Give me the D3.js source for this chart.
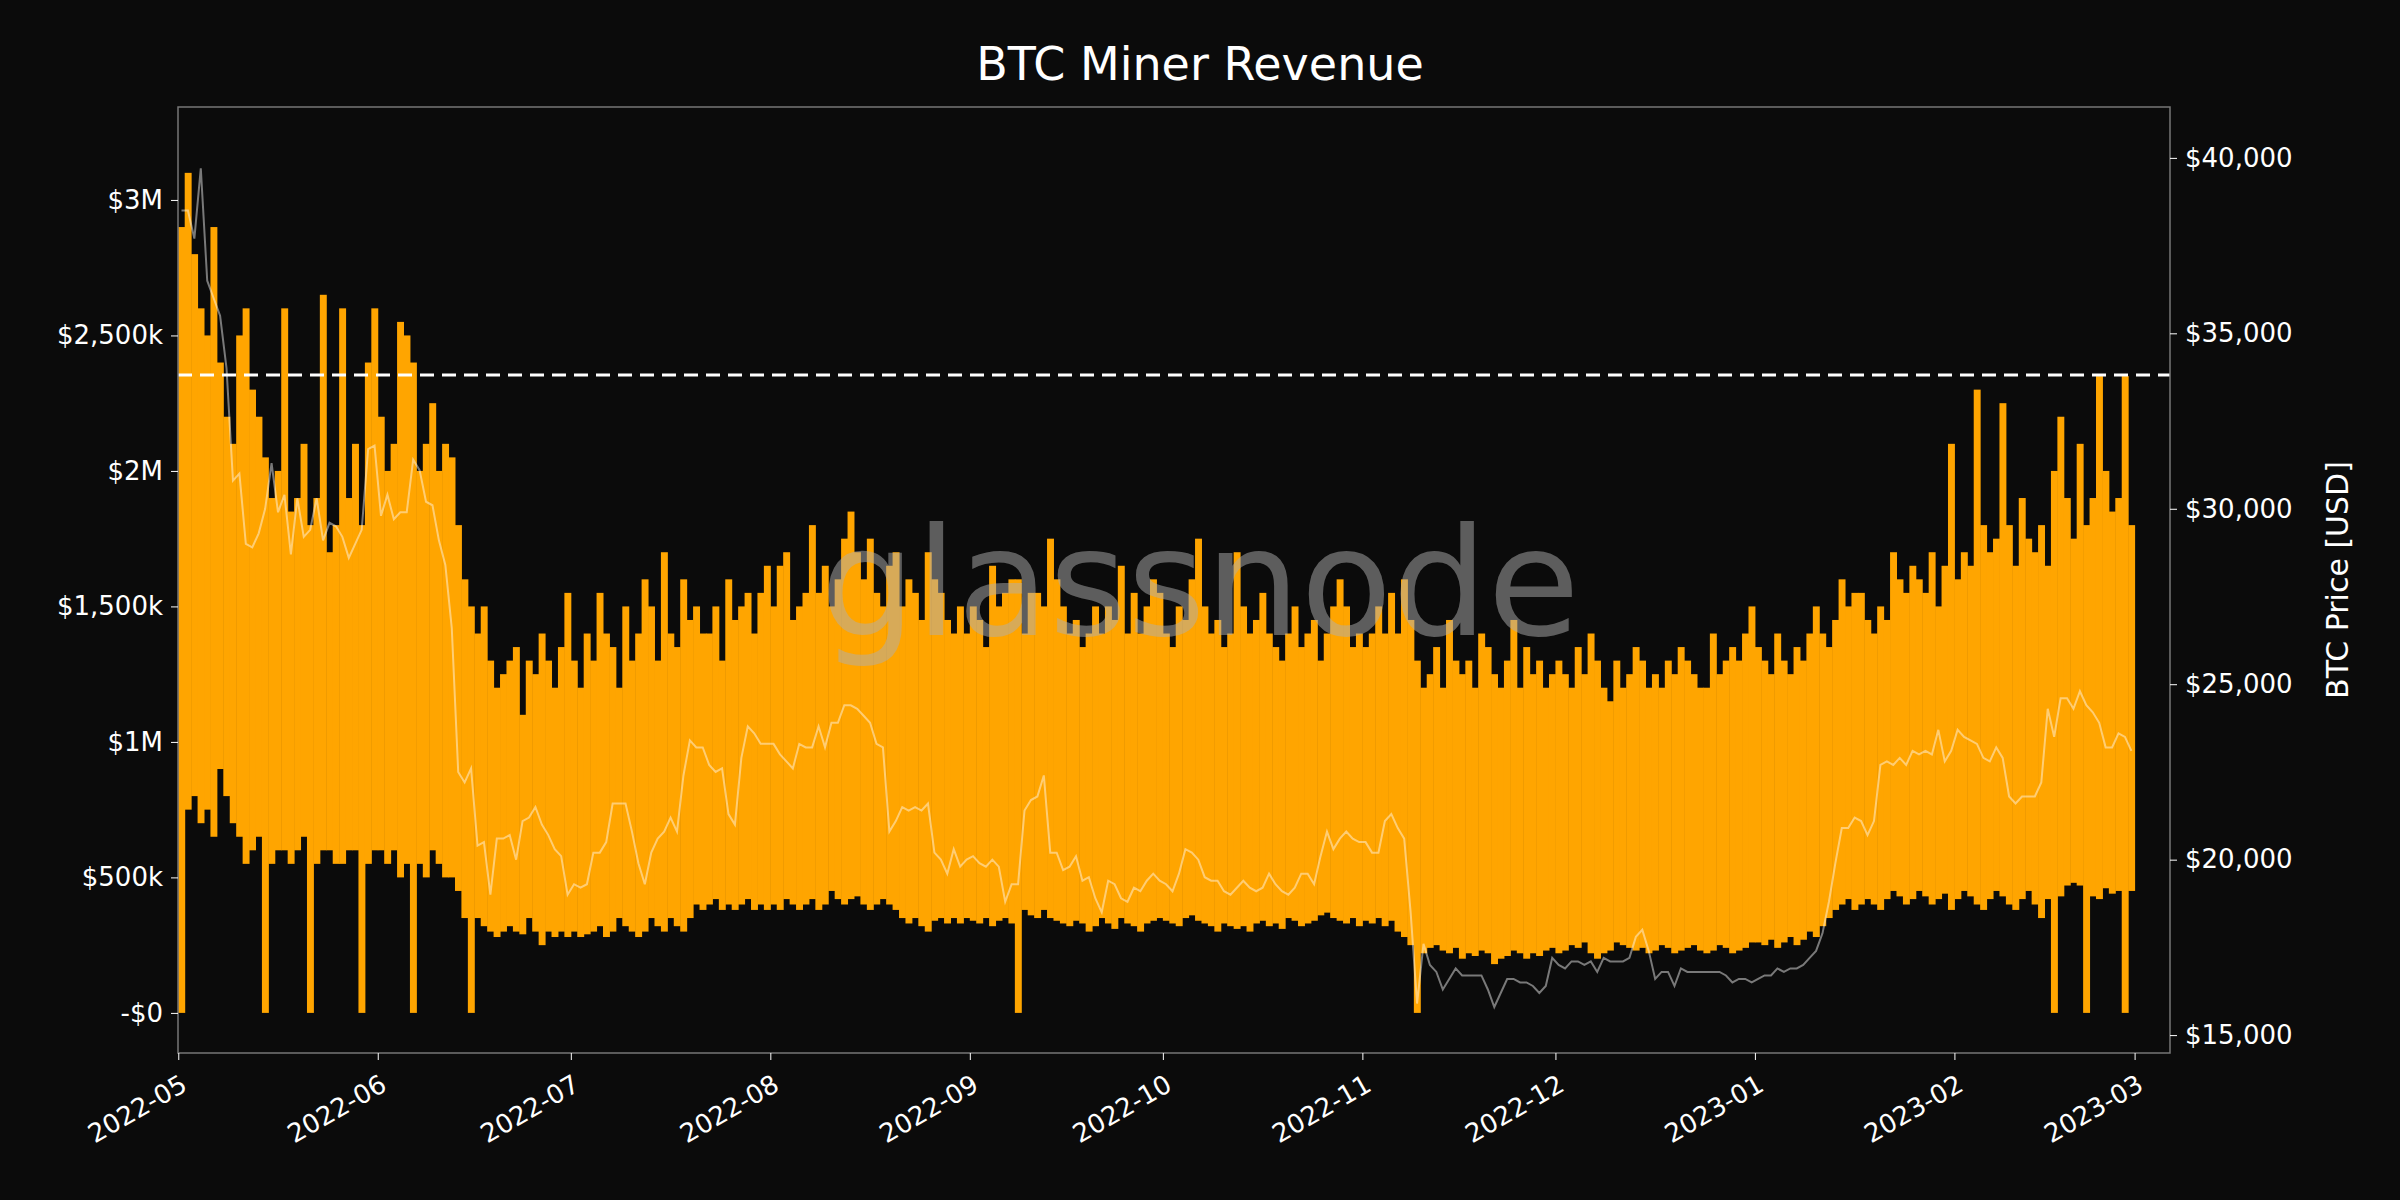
<!DOCTYPE html>
<html><head><meta charset="utf-8">
<script src="https://cdn.jsdelivr.net/npm/d3@7"></script>
<style>body{margin:0;background:#0b0b0b}svg{display:block}text{font-family:"DejaVu Sans",sans-serif}</style>
</head><body><svg id="c" width="2400" height="1200"></svg>
<script>
const startDate = "2022-05-01";
// daily revenue high ($k)
const revHigh = [
2900,3100,2800,2600,2500,2900,2400,2200,2100,2500,2600,2300,2200,2050,1900,2000,2600,1850,1900,2100,1800,1900,2650,1700,1800,2600,1900,2100,1800,2400,2600,
2200,2000,2100,2550,2500,2400,2000,2100,2250,2000,2100,2050,1800,1600,1500,1400,1500,1300,1200,1250,1300,1350,1100,1300,1250,1400,1300,1200,1350,1550,
1300,1200,1400,1300,1550,1400,1350,1200,1500,1300,1400,1600,1500,1300,1700,1400,1350,1600,1450,1500,1400,1400,1500,1300,1600,1450,1500,1550,1400,1550,1650,
1500,1650,1700,1450,1500,1550,1800,1550,1650,1500,1600,1750,1850,1700,1600,1750,1550,1500,1650,1700,1500,1600,1550,1450,1700,1600,1550,1450,1400,1500,1400,
1500,1450,1350,1650,1500,1550,1600,1600,1400,1550,1550,1500,1750,1600,1500,1400,1450,1350,1400,1500,1400,1500,1450,1650,1400,1550,1400,1500,1600,1550,
1400,1350,1500,1450,1600,1750,1500,1400,1450,1350,1400,1700,1500,1400,1450,1550,1400,1350,1300,1400,1500,1350,1400,1450,1300,1400,1500,1600,1500,1350,1400,
1350,1400,1500,1400,1550,1400,1600,1450,1300,1200,1250,1350,1200,1450,1300,1250,1300,1200,1400,1350,1250,1200,1300,1450,1200,1350,1250,1300,1200,1250,
1300,1250,1200,1350,1250,1400,1300,1200,1150,1300,1200,1250,1350,1300,1200,1250,1200,1300,1250,1350,1300,1250,1200,1200,1400,1250,1300,1350,1300,1400,1500,
1350,1300,1250,1400,1300,1250,1350,1300,1400,1500,1400,1350,1450,1600,1500,1550,1550,1450,1400,1500,1450,1700,1600,1550,1650,1600,1550,1700,1500,1650,2100,
1600,1700,1650,2300,1800,1700,1750,2250,1800,1650,1900,1750,1700,1800,1650,2000,2200,1900,1750,2100,1800,1900,2350,2000,1850,1900,2350,1800];
// daily revenue low ($k)
const revLow = [
0,750,800,700,750,650,900,800,700,650,550,600,650,0,550,600,600,550,600,650,0,550,600,600,550,550,600,600,0,550,600,
600,550,600,500,550,0,550,500,600,550,500,500,450,350,0,350,320,300,280,300,320,300,290,350,300,250,300,280,300,280,
300,280,290,300,320,280,300,350,320,300,280,300,350,320,300,350,320,300,350,400,380,400,420,380,400,380,400,420,380,400,380,
400,380,420,400,380,400,420,380,400,450,420,400,420,430,400,380,400,420,400,380,350,330,350,320,300,340,350,330,350,330,350,
340,330,350,320,340,350,330,0,380,360,350,380,350,340,330,320,340,330,300,320,350,330,310,350,330,320,300,330,340,350,
340,330,320,350,360,340,330,320,300,330,320,310,320,300,330,340,320,330,310,350,340,320,330,340,360,370,350,340,330,350,320,
340,330,350,320,340,300,280,250,0,220,240,250,230,220,240,200,220,210,230,220,180,200,210,230,220,200,220,210,230,240,
220,230,250,240,260,220,200,220,230,260,250,240,230,240,220,230,250,240,220,230,240,250,230,220,230,250,240,220,230,240,260,
260,250,270,240,260,280,250,270,300,280,320,350,380,400,420,380,400,420,400,380,420,450,430,400,420,450,430,400,420,440,380,
420,450,430,400,380,420,450,430,400,380,420,450,400,350,420,0,430,470,480,470,0,430,420,460,440,450,0,450];
// daily BTC price ($k)
const price = [
38.5,38.5,37.7,39.7,36.5,36.0,35.5,34.0,30.8,31.0,29.0,28.9,29.3,30.0,31.3,29.9,30.4,28.7,30.3,29.2,29.4,30.3,29.1,29.6,29.5,29.2,28.6,29.0,29.4,31.7,31.8,
29.8,30.4,29.7,29.9,29.9,31.4,31.1,30.2,30.1,29.1,28.4,26.6,22.5,22.2,22.6,20.4,20.5,19.0,20.6,20.6,20.7,20.0,21.1,21.2,21.5,21.0,20.7,20.3,20.1,19.0,
19.3,19.2,19.3,20.2,20.2,20.5,21.6,21.6,21.6,20.8,19.9,19.3,20.2,20.6,20.8,21.2,20.8,22.4,23.4,23.2,23.2,22.7,22.5,22.6,21.3,21.0,22.9,23.8,23.6,23.3,23.3,
23.3,23.0,22.8,22.6,23.3,23.2,23.2,23.8,23.2,23.9,23.9,24.4,24.4,24.3,24.1,23.9,23.3,23.2,20.8,21.1,21.5,21.4,21.5,21.4,21.6,20.2,20.0,19.6,20.3,19.8,20.0,
20.1,19.9,19.8,20.0,19.8,18.8,19.3,19.3,21.4,21.7,21.8,22.4,20.2,20.2,19.7,19.8,20.1,19.4,19.5,18.9,18.5,19.4,19.3,18.9,18.8,19.2,19.1,19.4,19.6,19.4,
19.3,19.1,19.6,20.3,20.2,20.0,19.5,19.4,19.4,19.1,19.0,19.2,19.4,19.2,19.1,19.2,19.6,19.3,19.1,19.0,19.2,19.6,19.6,19.3,20.1,20.8,20.3,20.6,20.8,20.6,20.5,
20.5,20.2,20.2,21.1,21.3,20.9,20.6,18.5,15.9,17.6,17.0,16.8,16.3,16.6,16.9,16.7,16.7,16.7,16.7,16.3,15.8,16.2,16.6,16.6,16.5,16.5,16.4,16.2,16.4,17.2,
17.0,16.9,17.1,17.1,17.0,17.1,16.8,17.2,17.1,17.1,17.1,17.2,17.8,18.0,17.4,16.6,16.8,16.8,16.4,16.9,16.8,16.8,16.8,16.8,16.8,16.8,16.7,16.5,16.6,16.6,16.5,
16.6,16.7,16.7,16.9,16.8,16.9,16.9,17.0,17.2,17.4,17.9,18.8,19.9,20.9,20.9,21.2,21.1,20.7,21.1,22.7,22.8,22.7,22.9,22.7,23.1,23.0,23.1,23.0,23.7,22.8,23.1,
23.7,23.5,23.4,23.3,22.9,22.8,23.2,22.9,21.8,21.6,21.8,21.8,21.8,22.2,24.3,23.5,24.6,24.6,24.3,24.8,24.4,24.2,23.9,23.2,23.2,23.6,23.5,23.1];
const refLine = 2354; // $k
const leftTicks = [0,500,1000,1500,2000,2500,3000];
const leftTickLabels = ["-$0","$500k","$1M","$1,500k","$2M","$2,500k","$3M"];
const rightTicks = [15,20,25,30,35,40];
const rightTickLabels = ["$15,000","$20,000","$25,000","$30,000","$35,000","$40,000"];
const xTickLabels = ["2022-05","2022-06","2022-07","2022-08","2022-09","2022-10","2022-11","2022-12","2023-01","2023-02","2023-03"];

const L=178,R=2170,T=107,B=1053;
const svg=d3.select("#c");
svg.append("rect").attr("width",2400).attr("height",1200).attr("fill","#0b0b0b");
const parse=d3.utcParse("%Y-%m-%d"), parseM=d3.utcParse("%Y-%m");
const t0=parse(startDate);
const day=i=>d3.utcDay.offset(t0,i);
const x=d3.scaleUtc().domain([new Date(Date.UTC(2022,3,30,23)),new Date(Date.UTC(2023,2,6,12))]).range([L,R]);
const yL=d3.scaleLinear().domain([-148,3343]).range([B,T]);
const yR=d3.scaleLinear().domain([14.49,41.45]).range([B,T]);
const g=svg.append("g");
g.append("clipPath").attr("id","clip").append("rect").attr("x",L).attr("y",T).attr("width",R-L).attr("height",B-T);
const plot=g.append("g").attr("clip-path","url(#clip)");
plot.selectAll("rect.bar").data(revHigh).join("rect")
  .attr("x",(d,i)=>x(day(i)))
  .attr("width",(d,i)=>x(day(i+1))-x(day(i))+0.5)
  .attr("y",d=>yL(d))
  .attr("height",(d,i)=>yL(revLow[i])-yL(d))
  .attr("fill","#ffa500");
plot.append("path").datum(price)
  .attr("d",d3.line().x((d,i)=>x(d3.utcHour.offset(day(i),12))).y(d=>yR(d)))
  .attr("fill","none").attr("stroke","rgba(255,255,255,0.45)").attr("stroke-width",2);
plot.append("line").attr("x1",L).attr("x2",R).attr("y1",yL(refLine)).attr("y2",yL(refLine))
  .attr("stroke","#fff").attr("stroke-width",3).attr("stroke-dasharray","14,8");
svg.append("text").attr("x",1200).attr("y",635).attr("text-anchor","middle")
  .attr("font-size",150).attr("fill","rgba(175,175,175,0.5)").text("glassnode");
svg.append("rect").attr("x",L).attr("y",T).attr("width",R-L).attr("height",B-T)
  .attr("fill","none").attr("stroke","#777").attr("stroke-width",1.5);
const ax=svg.append("g").attr("transform",`translate(${L},0)`)
  .call(d3.axisLeft(yL).tickValues(leftTicks).tickFormat((d,i)=>leftTickLabels[i]).tickSize(7).tickPadding(8));
const ar=svg.append("g").attr("transform",`translate(${R},0)`)
  .call(d3.axisRight(yR).tickValues(rightTicks).tickFormat((d,i)=>rightTickLabels[i]).tickSize(7).tickPadding(8));
const ab=svg.append("g").attr("transform",`translate(0,${B})`)
  .call(d3.axisBottom(x).tickValues(xTickLabels.map(s=>parseM(s))).tickFormat((d,i)=>xTickLabels[i]).tickSize(7));
ab.selectAll("text").attr("text-anchor","end").attr("transform","translate(-4,12) rotate(-30)").attr("dy","0.7em");
[ax,ar,ab].forEach(a=>{a.select(".domain").remove();a.selectAll("line").attr("stroke","#fff");
  a.selectAll("text").attr("fill","#fff").attr("font-size",26).attr("font-family","DejaVu Sans");});
svg.append("text").attr("x",1200).attr("y",80).attr("text-anchor","middle").attr("font-size",46)
  .attr("fill","#fff").text("BTC Miner Revenue");
svg.append("text").attr("transform",`translate(2348,${(T+B)/2}) rotate(-90)`).attr("text-anchor","middle")
  .attr("font-size",30).attr("fill","#fff").text("BTC Price [USD]");
</script></body></html>
